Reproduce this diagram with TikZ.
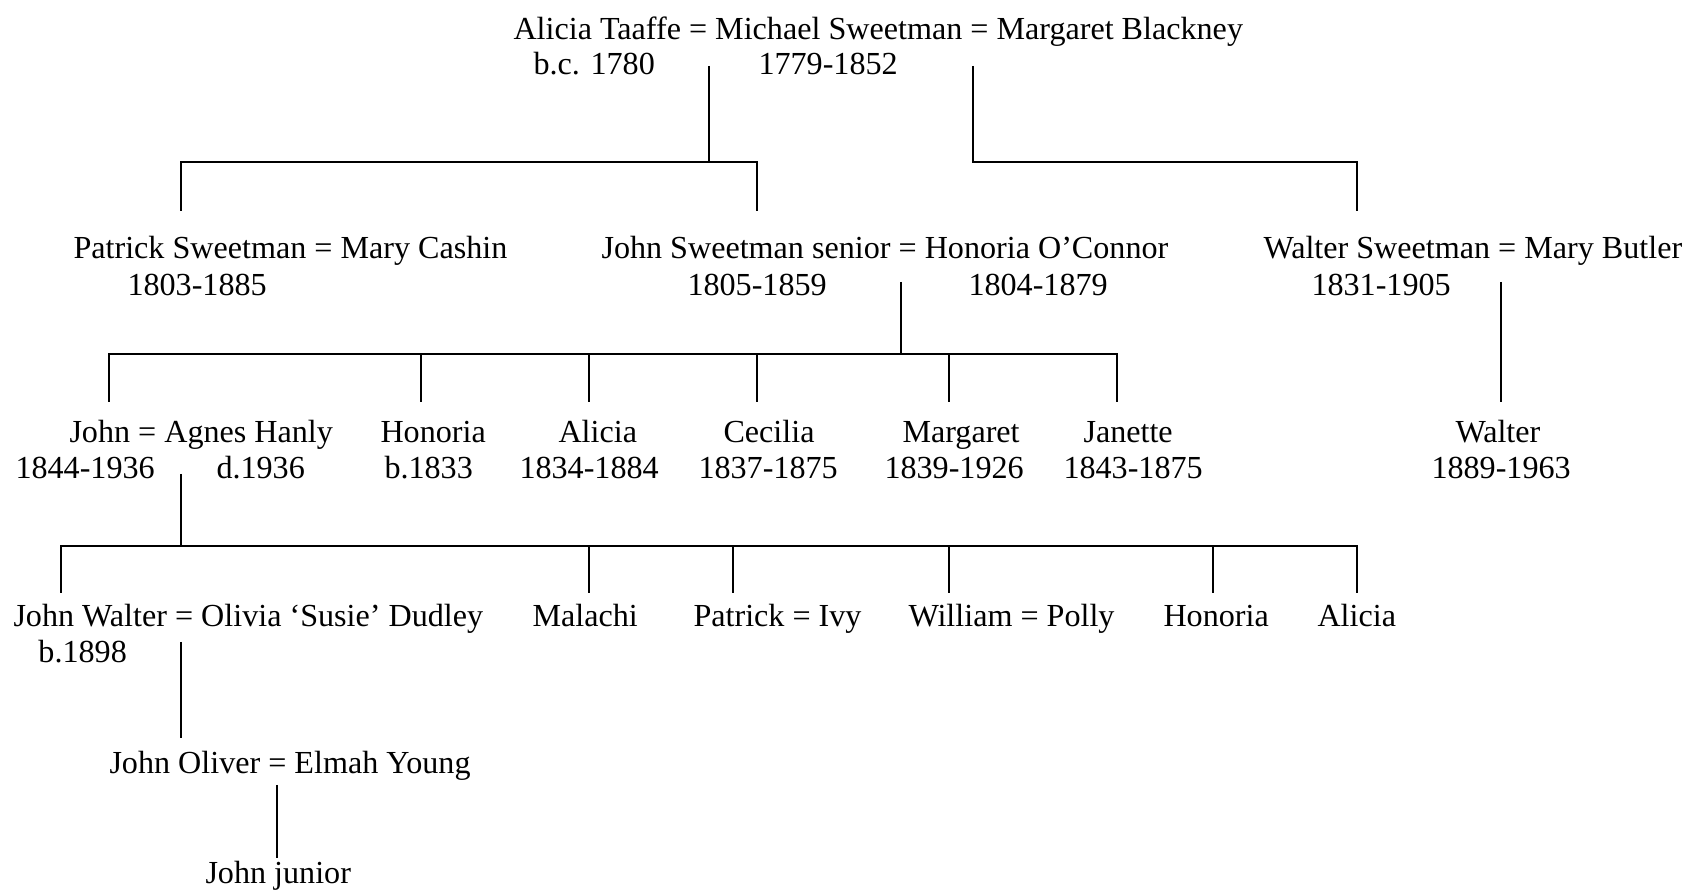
\documentclass[tikz,border=0pt]{standalone}
\usepackage{fontspec}
\setmainfont{Liberation Serif}

\tikzset{
  person/.style={anchor=base west, inner sep=0pt, font=\fontsize{12.85}{15}\selectfont},
  link/.style={line width=0.55pt}
}

\begin{document}
\begin{tikzpicture}[x=0.4pt, y=-0.4pt]
\useasboundingbox (0,0) rectangle (1688,890);

\node[person] (michael) at (513,40) {Alicia Taaffe = Michael Sweetman = Margaret Blackney};
\node[person] (aliciaT) at (533,75) {b.c. 1780};
\node[person] (michaelD) at (758,75) {1779-1852};

\node[person] (patrick) at (73,259) {Patrick Sweetman = Mary Cashin};
\node[person] (patrickD) at (127,296) {1803-1885};
\node[person] (johnSr) at (601,259) {John Sweetman senior = Honoria O’Connor};
\node[person] (johnSrD) at (687,296) {1805-1859};
\node[person] (honoriaOC) at (968,296) {1804-1879};
\node[person] (walter) at (1263,259) {Walter Sweetman = Mary Butler};
\node[person] (walterD) at (1311,296) {1831-1905};

\node[person] (john) at (69,443) {John = Agnes Hanly};
\node[person] (johnD) at (15,479) {1844-1936};
\node[person] (agnesD) at (216,479) {d.1936};
\node[person] (honoria) at (380,443) {Honoria};
\node[person] (honoriaD) at (384,479) {b.1833};
\node[person] (alicia) at (558,443) {Alicia};
\node[person] (aliciaD) at (519,479) {1834-1884};
\node[person] (cecilia) at (723,443) {Cecilia};
\node[person] (ceciliaD) at (698,479) {1837-1875};
\node[person] (margaret) at (902,443) {Margaret};
\node[person] (margaretD) at (884,479) {1839-1926};
\node[person] (janette) at (1083,443) {Janette};
\node[person] (janetteD) at (1063,479) {1843-1875};
\node[person] (walterJr) at (1455,443) {Walter};
\node[person] (walterJrD) at (1431,479) {1889-1963};

\node[person] (johnW) at (13,627) {John Walter = Olivia ‘Susie’ Dudley};
\node[person] (johnWD) at (38,663) {b.1898};
\node[person] (malachi) at (532,627) {Malachi};
\node[person] (patrickI) at (693,627) {Patrick = Ivy};
\node[person] (william) at (908,627) {William = Polly};
\node[person] (honoria2) at (1163,627) {Honoria};
\node[person] (alicia2) at (1317,627) {Alicia};

\node[person] (johnO) at (109,774) {John Oliver = Elmah Young};
\node[person] (johnJr) at (205,884) {John junior};

\coordinate (up1) at (709,66);
\coordinate (up2) at (973,66);
\coordinate (bar1) at (0,162);
\coordinate (kPatrick) at (181,211);
\coordinate (kJohnSr) at (757,211);
\coordinate (kWalter) at (1357,211);
\draw[link] (up1) -- (up1 |- bar1);
\draw[link] (kPatrick) |- (kJohnSr |- bar1) -- (kJohnSr);
\draw[link] (up2) |- (kWalter |- bar1) -- (kWalter);

\coordinate (up3) at (901,282);
\coordinate (bar2) at (0,354);
\coordinate (kJohn) at (109,402);
\coordinate (kHonoria) at (421,402);
\coordinate (kAlicia) at (589,402);
\coordinate (kCecilia) at (757,402);
\coordinate (kMargaret) at (949,402);
\coordinate (kJanette) at (1117,402);
\draw[link] (up3) -- (up3 |- bar2);
\draw[link] (kJohn) |- (kJanette |- bar2) -- (kJanette);
\foreach \k in {kHonoria,kAlicia,kCecilia,kMargaret}
  \draw[link] (\k) -- (\k |- bar2);

\coordinate (up4) at (1501,282);
\coordinate (kWalterJr) at (1501,402);
\draw[link] (up4) -- (kWalterJr);

\coordinate (up5) at (181,474);
\coordinate (bar3) at (0,546);
\coordinate (kJohnW) at (61,593);
\coordinate (kMalachi) at (589,593);
\coordinate (kPatrickI) at (733,593);
\coordinate (kWilliam) at (949,593);
\coordinate (kHonoria2) at (1213,593);
\coordinate (kAlicia2) at (1357,593);
\draw[link] (up5) -- (up5 |- bar3);
\draw[link] (kJohnW) |- (kAlicia2 |- bar3) -- (kAlicia2);
\foreach \k in {kMalachi,kPatrickI,kWilliam,kHonoria2}
  \draw[link] (\k) -- (\k |- bar3);

\coordinate (up6) at (181,642);
\coordinate (kJohnO) at (181,738);
\draw[link] (up6) -- (kJohnO);

\coordinate (up7) at (277,785);
\coordinate (kJohnJr) at (277,858);
\draw[link] (up7) -- (kJohnJr);
\end{tikzpicture}
\end{document}
